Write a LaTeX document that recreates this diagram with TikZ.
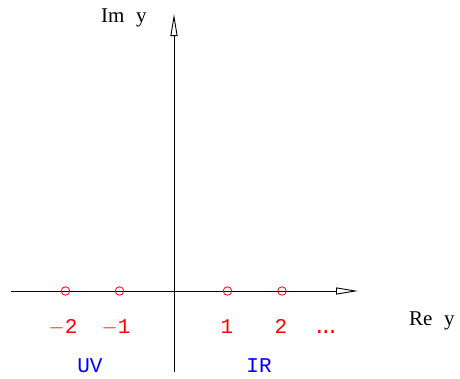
\documentclass[tikz,border=0pt]{standalone}
\usepackage{fontspec}
\setmainfont{Liberation Serif}
\newfontfamily\labmono{Liberation Mono}
\usetikzlibrary{arrows.meta}
\begin{document}
\begin{tikzpicture}[x=1pt,y=-1pt,
  axis/.style={line width=0.9pt,-{Triangle[open,length=22pt,width=7pt,line width=0.9pt]}},
  pole/.style={circle,draw=red,line width=0.8pt,minimum size=8.5pt,inner sep=0pt},
  numlab/.style={anchor=base,text=red,font=\labmono\fontsize{21}{21}\selectfont,inner sep=0pt},
  reglab/.style={anchor=base,text=blue,font=\labmono\fontsize{21}{21}\selectfont,inner sep=0pt},
  axlab/.style={anchor=base west,font=\fontsize{21}{21}\selectfont,inner sep=0pt}]
\useasboundingbox (0,0) rectangle (460,378);
\coordinate (xs) at (11,291);
\coordinate (xe) at (358,291);
\coordinate (ys) at (174,372);
\coordinate (ye) at (174,14);
\draw[axis] (xs) -- (xe);
\draw[axis] (ys) -- (ye);
\node[pole] (p1) at (65.5,291) {};
\node[pole] (p2) at (119.5,291) {};
\node[pole] (p3) at (227.5,291) {};
\node[pole] (p4) at (282,291) {};
\node[numlab] (l1) at (63,333) {$-$2};
\node[numlab] (l2) at (116,333) {$-$1};
\node[numlab] (l3) at (227,333) {1};
\node[numlab] (l4) at (281,333) {2};
\node[numlab] (l5) at (326,333) {.\kern-6pt.\kern-6pt.};
\node[reglab] (uv) at (90,372) {UV};
\node[reglab] (ir) at (259,372) {IR};
\node[axlab] (im) at (101,22) {Im\hspace{0.55em}y};
\node[axlab] (re) at (409,325) {Re\hspace{0.55em}y};
\end{tikzpicture}
\end{document}
